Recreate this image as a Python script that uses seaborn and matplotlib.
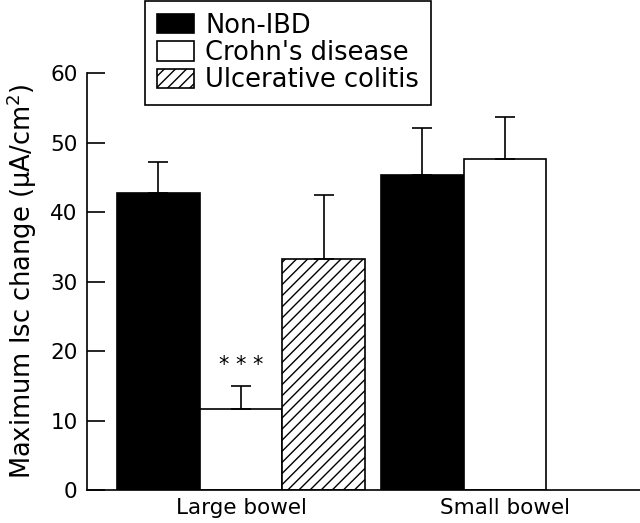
import pandas as pd
import seaborn as sns
import matplotlib.pyplot as plt
from matplotlib.patches import Patch

# values (mean, SEM)
sites = ["Large bowel", "Large bowel", "Large bowel", "Small bowel", "Small bowel"]
groups = ["Non-IBD", "Crohn's disease", "Ulcerative colitis", "Non-IBD", "Crohn's disease"]
means = [42.8, 11.7, 33.2, 45.3, 47.6]
sems = [4.4, 3.3, 9.2, 6.8, 6.1]

site_order = ["Large bowel", "Small bowel"]
group_order = ["Non-IBD", "Crohn's disease", "Ulcerative colitis"]
face = {"Non-IBD": "black", "Crohn's disease": "white", "Ulcerative colitis": "white"}
hatches = {"Non-IBD": "", "Crohn's disease": "", "Ulcerative colitis": "///"}

df = pd.DataFrame({"site": sites, "group": groups, "mean": means, "sem": sems})

sns.set_style("ticks", {"axes.edgecolor": "black", "text.color": "black",
                        "axes.labelcolor": "black", "xtick.color": "black",
                        "ytick.color": "black"})
plt.rcParams["font.family"] = ["DejaVu Sans"]
plt.rcParams["hatch.linewidth"] = 1.0

fig = plt.figure(figsize=(6.4, 5.23), dpi=100)
ax = fig.add_axes([0.1355, 0.0631, 0.8645, 0.7969])

sns.barplot(data=df, x="site", y="mean", hue="group", order=site_order,
            hue_order=group_order, palette=face, width=0.94, gap=0,
            edgecolor="black", linewidth=1.2, errorbar=None, legend=False, ax=ax)

# hatch + upward-only error bars, matched per hue level
for container, level in zip(ax.containers, group_order):
    sub = df[df["group"] == level]
    for bar, (_, row) in zip(container, sub.iterrows()):
        bar.set_hatch(hatches[level])
        cx = bar.get_x() + bar.get_width() / 2
        ax.errorbar(cx, row["mean"], yerr=[[0], [row["sem"]]], fmt="none",
                    ecolor="black", elinewidth=1.2, capsize=7.5, capthick=1.2,
                    zorder=1)
        if row["site"] == "Large bowel" and level == "Crohn's disease":
            ax.annotate("* * *", (cx, row["mean"] + row["sem"]), xytext=(0, 15),
                        textcoords="offset points", ha="center", va="center",
                        fontsize=15)

ax.set_xlim(-0.584, 1.511)
ax.set_ylim(0, 60)
ax.set_yticks([0, 10, 20, 30, 40, 50, 60])
ax.set_xlabel("")
ax.set_ylabel("Maximum Isc change (μA/cm$^2$)", fontsize=18.5, labelpad=8)
ax.tick_params(axis="y", direction="in", length=13, width=1.2, pad=6.5, labelsize=15.5)
ax.tick_params(axis="x", length=0, pad=6, labelsize=15.5)
sns.despine(ax=ax)
for s in ["left", "bottom"]:
    ax.spines[s].set_linewidth(1.2)
ax.spines["left"].set_bounds(0, 60)

handles = [Patch(facecolor=face[g], edgecolor="black", hatch=hatches[g], linewidth=1.2)
           for g in group_order]
leg = fig.legend(handles, group_order, loc="upper left", bbox_to_anchor=(145 / 640, 0.998),
                 borderaxespad=0, fontsize=18.5, frameon=True, fancybox=False,
                 edgecolor="black", framealpha=1, handlelength=1.44, handleheight=0.78,
                 handletextpad=0.45, labelspacing=0.05, borderpad=0.45)
leg.get_frame().set_linewidth(1.2)

fig.savefig("out.png", dpi=100)
